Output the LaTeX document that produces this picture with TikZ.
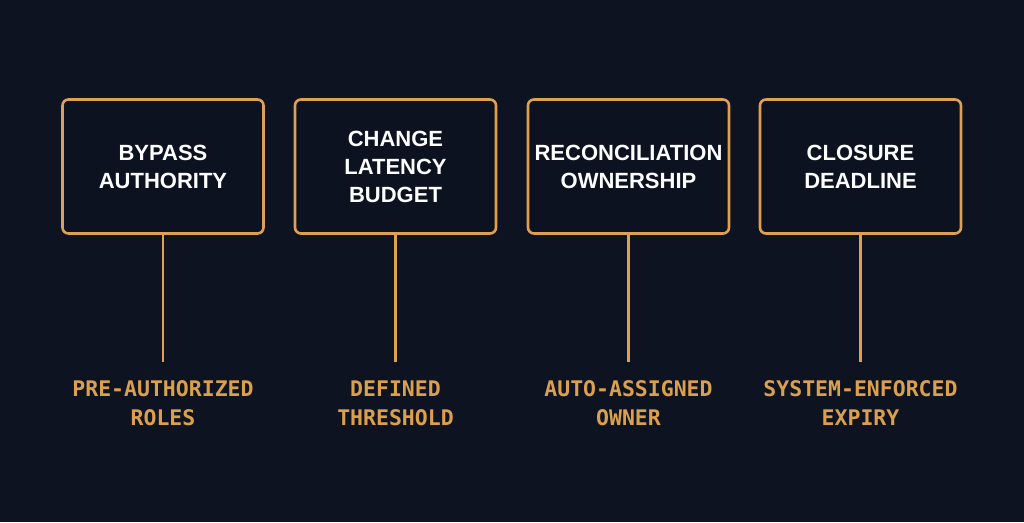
\documentclass[tikz,border=0pt]{standalone}
\usepackage{fontspec}
\setmainfont{Liberation Sans}
\newfontfamily\labelfont{DejaVu Sans Mono}
\definecolor{bg}{HTML}{0D1321}
\definecolor{boxfill}{HTML}{0C1220}
\definecolor{accent}{HTML}{DDA055}
\definecolor{labelcol}{HTML}{DBA04E}
\tikzset{
  stagebox/.style={draw=accent, line width=2.6pt, rounded corners=6pt, fill=boxfill,
    minimum width=201pt, minimum height=134pt, inner sep=0pt, align=center,
    text=white, font=\fontsize{22}{28}\selectfont\bfseries},
  stagelabel/.style={align=center, text=labelcol, inner sep=0pt,
    font=\labelfont\bfseries\fontsize{21.5}{29}\selectfont},
  stem/.style={draw=accent, line width=2.2pt}
}
\begin{document}
\begin{tikzpicture}[x=1pt,y=-1pt]
\fill[bg] (0,0) rectangle (1024,522);
\useasboundingbox (0,0) rectangle (1024,522);
\node[stagebox] (b1) at (163,166.5) {BYPASS\\AUTHORITY};
\node[stagebox] (b2) at (395.5,166.5) {CHANGE\\LATENCY\\BUDGET};
\node[stagebox] (b3) at (628.5,166.5) {RECONCILIATION\\OWNERSHIP};
\node[stagebox] (b4) at (860.5,166.5) {CLOSURE\\DEADLINE};
\coordinate (e1) at (163,362);
\coordinate (e2) at (395.5,362);
\coordinate (e3) at (628.5,362);
\coordinate (e4) at (860.5,362);
\draw[stem] (b1.south) -- (e1);
\draw[stem] (b2.south) -- (e2);
\draw[stem] (b3.south) -- (e3);
\draw[stem] (b4.south) -- (e4);
\node[stagelabel] (l1) at (163,403) {PRE-AUTHORIZED\\ROLES};
\node[stagelabel] (l2) at (395.5,403) {DEFINED\\THRESHOLD};
\node[stagelabel] (l3) at (628.5,403) {AUTO-ASSIGNED\\OWNER};
\node[stagelabel] (l4) at (860.5,403) {SYSTEM-ENFORCED\\EXPIRY};
\end{tikzpicture}
\end{document}
